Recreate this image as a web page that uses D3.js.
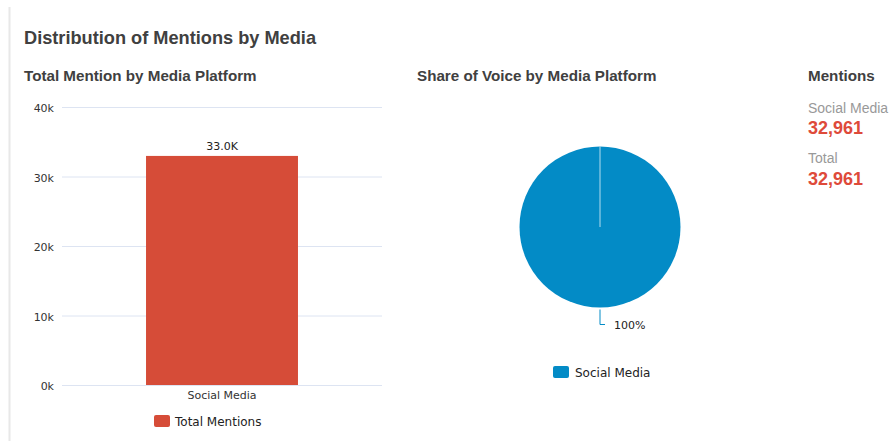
<!DOCTYPE html>
<html>
<head>
<meta charset="utf-8">
<script src="https://cdn.jsdelivr.net/npm/d3@7"></script>
<style>
  body { margin: 0; background: #fff; }
  text { font-family: "Liberation Sans", Arial, sans-serif; }
  .tick text, .lbl { font-family: "DejaVu Sans", sans-serif; }
</style>
</head>
<body>
<div id="chart"></div>
<script>
var svgWidth = 893;
var svgHeight = 441;

// data
var platforms = ["Social Media"];
var mentions = [32961];
var yTicks = [0, 10000, 20000, 30000, 40000];
var shareLabels = ["100%"];
var summaryLabels = ["Social Media", "Total"];
var summaryValues = [32961, 32961];

var barColor = "#d64c38";
var pieColor = "#038bc6";

var svg = d3.select("#chart")
  .append("svg")
  .attr("width", svgWidth)
  .attr("height", svgHeight);

// faint left border of the panel
svg.append("line")
  .attr("x1", 9.5).attr("x2", 9.5)
  .attr("y1", 7).attr("y2", svgHeight)
  .attr("stroke", "#e8e8e8")
  .attr("stroke-width", 2);

// titles
svg.append("text")
  .attr("x", 24).attr("y", 44)
  .style("font-size", "18.2px")
  .style("font-weight", "bold")
  .style("fill", "#404040")
  .text("Distribution of Mentions by Media");

svg.append("text")
  .attr("x", 24).attr("y", 81)
  .style("font-size", "15.2px")
  .style("font-weight", "bold")
  .style("fill", "#404040")
  .text("Total Mention by Media Platform");

svg.append("text")
  .attr("x", 417).attr("y", 81)
  .style("font-size", "15.2px")
  .style("font-weight", "bold")
  .style("fill", "#404040")
  .text("Share of Voice by Media Platform");

// ---- bar chart ----
var barLeft = 62, barRight = 382, barTop = 107, barBottom = 385;

var xScale = d3.scaleBand()
  .domain(platforms)
  .range([barLeft, barRight])
  .paddingInner(0)
  .paddingOuter(0.553);

var yScale = d3.scaleLinear()
  .domain([0, 40000])
  .range([barBottom, barTop]);

var leftAxis = d3.axisLeft(yScale)
  .tickValues(yTicks)
  .tickSize(-(barRight - barLeft))
  .tickFormat(d => (d / 1000) + "k");

var yAxis = svg.append("g")
  .attr("transform", `translate(${barLeft}, 0)`)
  .call(leftAxis);
yAxis.select(".domain").remove();
yAxis.selectAll(".tick line")
  .attr("stroke", "#dde4f2");
yAxis.selectAll(".tick text")
  .attr("x", -8)
  .attr("dy", "0.45em")
  .style("font-size", "11px")
  .style("fill", "#333");

svg.selectAll(".bar")
  .data(mentions)
  .enter()
  .append("rect")
  .attr("class", "bar")
  .attr("x", (d, i) => xScale(platforms[i]))
  .attr("y", d => yScale(d))
  .attr("width", xScale.bandwidth())
  .attr("height", d => barBottom - yScale(d))
  .attr("fill", barColor);

svg.selectAll(".barLabel")
  .data(mentions)
  .enter()
  .append("text")
  .attr("class", "lbl")
  .attr("x", (d, i) => xScale(platforms[i]) + xScale.bandwidth() / 2)
  .attr("y", d => yScale(d) - 6)
  .attr("text-anchor", "middle")
  .style("font-size", "11px")
  .style("fill", "#222")
  .text(d => (d / 1000).toFixed(1) + "K");

svg.selectAll(".catLabel")
  .data(platforms)
  .enter()
  .append("text")
  .attr("class", "lbl")
  .attr("x", d => xScale(d) + xScale.bandwidth() / 2)
  .attr("y", barBottom + 14)
  .attr("text-anchor", "middle")
  .style("font-size", "11px")
  .style("fill", "#333")
  .text(d => d);

// bar legend
svg.append("rect")
  .attr("x", 154).attr("y", 415)
  .attr("width", 16).attr("height", 12)
  .attr("rx", 2)
  .attr("fill", barColor);
svg.append("text")
  .attr("class", "lbl")
  .attr("x", 175).attr("y", 425.5)
  .style("font-size", "12px")
  .style("fill", "#222")
  .text("Total Mentions");

// ---- pie chart ----
var cx = 600, cy = 227, radius = 80.5;

var pie = d3.pie().sort(null);
var arc = d3.arc().innerRadius(0).outerRadius(radius);

var pieG = svg.append("g")
  .attr("transform", `translate(${cx}, ${cy})`);

pieG.selectAll("path.slice")
  .data(pie(mentions))
  .enter()
  .append("path")
  .attr("class", "slice")
  .attr("d", arc)
  .attr("fill", pieColor);

// slice edge (start angle) drawn as a thin white line
pieG.selectAll(".edge")
  .data(pie(mentions))
  .enter()
  .append("line")
  .attr("class", "edge")
  .attr("x1", 0).attr("y1", 0)
  .attr("x2", d => Math.sin(d.startAngle) * radius)
  .attr("y2", d => -Math.cos(d.startAngle) * radius)
  .attr("stroke", "#fff")
  .attr("stroke-opacity", 0.7)
  .attr("stroke-width", 1);

// leader line for the label (slice midpoint is at the bottom)
pieG.selectAll(".leader")
  .data(pie(mentions))
  .enter()
  .append("path")
  .attr("class", "leader")
  .attr("d", function(d) {
    var mid = (d.startAngle + d.endAngle) / 2;
    var x0 = Math.sin(mid) * radius, y0 = -Math.cos(mid) * radius;
    var y1 = -Math.cos(mid) * (radius + 17);
    return `M${x0},${y0 + 2}L${x0},${y1}L${x0 + 5},${y1}`;
  })
  .attr("fill", "none")
  .attr("stroke", pieColor)
  .attr("stroke-width", 1);

pieG.selectAll(".pieLabel")
  .data(pie(mentions))
  .enter()
  .append("text")
  .attr("class", "lbl")
  .attr("x", d => Math.sin((d.startAngle + d.endAngle) / 2) * radius + 14)
  .attr("y", d => -Math.cos((d.startAngle + d.endAngle) / 2) * (radius + 17) + 4)
  .style("font-size", "11px")
  .style("fill", "#222")
  .text((d, i) => shareLabels[i]);

// pie legend
svg.append("rect")
  .attr("x", 553).attr("y", 366)
  .attr("width", 16).attr("height", 12)
  .attr("rx", 2)
  .attr("fill", pieColor);
svg.append("text")
  .attr("class", "lbl")
  .attr("x", 575).attr("y", 376.5)
  .style("font-size", "12px")
  .style("fill", "#222")
  .text(platforms[0]);

// ---- summary ----
svg.append("text")
  .attr("x", 808).attr("y", 81)
  .style("font-size", "15.2px")
  .style("font-weight", "bold")
  .style("fill", "#404040")
  .text("Mentions");

var fmt = d3.format(",");
summaryLabels.forEach(function(lab, i) {
  svg.append("text")
    .attr("x", 808).attr("y", 113 + i * 50)
    .style("font-size", "14px")
    .style("fill", "#999")
    .text(lab);
  svg.append("text")
    .attr("x", 808).attr("y", 134 + i * 51)
    .style("font-size", "18px")
    .style("font-weight", "bold")
    .style("fill", "#de4a3a")
    .text(fmt(summaryValues[i]));
});
</script>
</body>
</html>
